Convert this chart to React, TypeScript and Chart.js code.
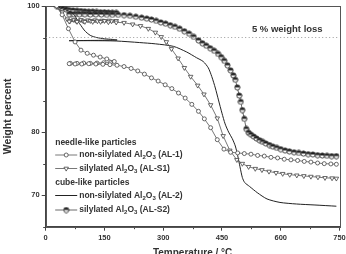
import { useEffect, useRef } from "react";
import { Chart, registerables } from "chart.js";

Chart.register(...registerables);

const FONT = '"Liberation Sans", Arial, Helvetica, sans-serif';
const INK = "#333";

// Thermogravimetric curves: [temperature °C, weight %]. Each run heats to ~180 °C,
// cools back to ~60 °C and is then heated again up to 750 °C.
const al1Curve: [number, number][] = [
  [28, 100], [42, 98.6], [58, 96.4], [75, 94.3], [90, 93.0], [106, 92.5], [122, 92.2], [139, 91.9], [156, 91.6], [175, 91.2],
  [165, 91.0], [148, 91.0], [131, 90.95], [114, 90.9], [97, 90.95], [80, 90.9], [63, 90.9],
  [60, 90.85], [75, 90.8], [92, 90.8], [110, 90.85], [128, 90.8], [146, 90.75], [164, 90.7], [182, 90.6],
  [200, 90.4], [218, 90.1], [235, 89.7], [252, 89.2], [270, 88.6], [287, 88.1], [305, 87.5], [322, 86.9], [339, 86.2],
  [356, 85.4], [373, 84.4], [390, 83.3], [405, 82.1], [421, 80.7], [438, 78.8], [455, 77.3], [472, 76.8], [490, 76.7],
  [507, 76.6], [524, 76.5], [541, 76.3], [558, 76.2], [575, 76.0], [592, 75.9], [609, 75.7], [626, 75.6], [643, 75.5],
  [660, 75.35], [677, 75.25], [694, 75.1], [711, 75.0], [728, 74.95], [742, 74.9],
];

const alS1Curve: [number, number][] = [
  [28, 100], [42, 99.0], [55, 97.9], [72, 97.8], [90, 97.8], [108, 97.75], [126, 97.75], [144, 97.7], [162, 97.7], [180, 97.65],
  [168, 97.6], [150, 97.65], [132, 97.6], [114, 97.65], [96, 97.6], [78, 97.6], [62, 97.6],
  [60, 97.55], [80, 97.5], [100, 97.5], [120, 97.5], [140, 97.5], [160, 97.45], [180, 97.4], [200, 97.35], [222, 97.1],
  [242, 96.85], [262, 96.4], [280, 95.8], [295, 95.1], [308, 94.3], [321, 93.2], [338, 91.7], [354, 90.2], [370, 88.8],
  [388, 87.4], [404, 86.0], [421, 84.3], [438, 82.2], [453, 79.4], [470, 77.1], [488, 75.6], [502, 75.0], [518, 74.5],
  [535, 74.2], [552, 74.0], [570, 73.75], [588, 73.55], [605, 73.4], [623, 73.25], [641, 73.15], [659, 73.05],
  [677, 72.95], [695, 72.85], [713, 72.75], [731, 72.7], [742, 72.65],
];

const al2Curve: [number, number][] = [
  [28, 100], [40, 99.6], [55, 99.3], [68, 98.9], [76, 98.3], [83, 97.5], [90, 96.9], [98, 96.2], [106, 95.7], [115, 95.3],
  [130, 95.0], [150, 94.8], [170, 94.7], [182, 94.6],
  [60, 94.5],
  [120, 94.5], [180, 94.45], [240, 94.2], [280, 94.0], [326, 93.6], [360, 92.7], [385, 91.8], [402, 91.2], [415, 90.2],
  [424, 88.8], [433, 87.0], [441, 85.1], [450, 83.0], [458, 81.3], [467, 80.0], [476, 79.0], [484, 77.8], [490, 76.3],
  [496, 74.5], [502, 72.8], [508, 72.0], [520, 71.4], [540, 70.4], [565, 69.4], [598, 68.85], [640, 68.6], [685, 68.45],
  [742, 68.25],
];

const alS2Curve: [number, number][] = [
  [28, 100], [36, 99.8], [44, 99.6], [52, 99.45], [60, 99.35], [70, 99.3], [80, 99.25], [90, 99.2], [100, 99.15],
  [110, 99.1], [120, 99.1], [130, 99.05], [140, 99.0], [150, 99.0], [160, 98.95], [170, 98.9], [180, 98.9],
  [170, 98.85], [155, 98.85], [140, 98.8], [125, 98.8], [110, 98.8], [95, 98.75], [80, 98.75], [65, 98.7],
  [60, 98.7], [72, 98.7], [86, 98.7], [100, 98.7], [114, 98.65], [128, 98.65], [142, 98.65], [156, 98.6], [170, 98.6],
  [185, 98.6], [200, 98.55], [215, 98.45], [230, 98.3], [245, 98.15], [258, 98.0], [270, 97.85], [282, 97.65],
  [294, 97.4], [306, 97.2], [318, 96.95], [330, 96.7], [342, 96.4], [354, 96.0], [366, 95.6], [378, 95.1], [390, 94.55],
  [400, 94.1], [410, 93.7], [420, 93.3], [430, 92.9], [440, 92.4], [448, 91.9], [456, 91.3], [464, 90.6], [472, 89.8],
  [479, 89.0], [484, 88.3], [489, 87.1], [494, 85.8], [498, 84.8], [502, 83.5], [507, 82.1], [512, 80.5], [518, 79.9],
  [524, 79.6], [531, 79.3], [538, 79.0], [546, 78.7], [554, 78.45], [562, 78.2], [571, 77.95], [580, 77.7], [590, 77.5],
  [600, 77.3], [611, 77.1], [622, 76.95], [634, 76.8], [646, 76.7], [658, 76.6], [670, 76.5], [682, 76.45], [694, 76.35],
  [706, 76.3], [718, 76.25], [730, 76.2], [742, 76.2],
];

const xTicks = [0, 150, 300, 450, 600, 750];
const xMinorTicks = [75, 225, 375, 525, 675];
const yTicks = [70, 80, 90, 100];
const yMinorTicks = [65, 75, 85, 95];

const lossLevel = 95;
const lossLabel = "5 % weight loss";
const lossLabelAt: [number, number] = [707, 96.35];

const groupTitles = ["needle-like particles", "cube-like particles"];
const legendPrefixes = ["non-silylated ", "silylated ", "non-silylated ", "silylated "];
const sampleCodes = ["AL-1", "AL-S1", "AL-2", "AL-S2"];

const toPoints = (curve: [number, number][]) => curve.map(([x, y]) => ({ x, y }));

function halfFilledMarker(): HTMLCanvasElement {
  const c = document.createElement("canvas");
  c.width = 7;
  c.height = 7;
  const g = c.getContext("2d")!;
  const r = 2.6;
  g.beginPath();
  g.arc(3.5, 3.5, r, 0, Math.PI * 2);
  g.fillStyle = "#fff";
  g.fill();
  g.beginPath();
  g.arc(3.5, 3.5, r, Math.PI, Math.PI * 2);
  g.closePath();
  g.fillStyle = "#1e1e1e";
  g.fill();
  g.beginPath();
  g.arc(3.5, 3.5, r, 0, Math.PI * 2);
  g.lineWidth = 0.9;
  g.strokeStyle = "#333";
  g.stroke();
  return c;
}

export default function App() {
  const canvasRef = useRef<HTMLCanvasElement | null>(null);

  useEffect(() => {
    if (!canvasRef.current) return;
    const s2Marker = halfFilledMarker();

    const styles = [
      { pointStyle: "circle" as any, pointRadius: 2, pointRotation: 0, pointBorderColor: "#444", pointBackgroundColor: "#fff", borderColor: "#555" },
      { pointStyle: "triangle" as any, pointRadius: 2.6, pointRotation: 180, pointBorderColor: "#444", pointBackgroundColor: "#fff", borderColor: "#555" },
      { pointStyle: false as any, pointRadius: 0, pointRotation: 0, pointBorderColor: "#222", pointBackgroundColor: "#222", borderColor: "#222" },
      { pointStyle: s2Marker as any, pointRadius: 2.6, pointRotation: 0, pointBorderColor: "#333", pointBackgroundColor: "#222", borderColor: "#444" },
    ];
    const curves = [al1Curve, alS1Curve, al2Curve, alS2Curve];

    const frame = {
      id: "frame",
      beforeDatasetsDraw(chart: any) {
        const { ctx, chartArea: a, scales } = chart;
        ctx.save();
        ctx.strokeStyle = "#444";
        ctx.lineWidth = 1;
        // minor ticks
        ctx.beginPath();
        xMinorTicks.forEach((v) => {
          const px = Math.round(scales.x.getPixelForValue(v)) + 0.5;
          ctx.moveTo(px, a.bottom);
          ctx.lineTo(px, a.bottom + 2.5);
        });
        yMinorTicks.forEach((v) => {
          const py = Math.round(scales.y.getPixelForValue(v)) + 0.5;
          ctx.moveTo(a.left, py);
          ctx.lineTo(a.left - 2.5, py);
        });
        ctx.stroke();
        // plot box
        ctx.strokeStyle = "#555";
        ctx.strokeRect(Math.round(a.left) + 0.5, Math.round(a.top) + 0.5, Math.round(a.right - a.left), Math.round(a.bottom - a.top));
        ctx.restore();
      },
      afterDraw(chart: any) {
        const { ctx, chartArea: a, scales } = chart;
        ctx.save();
        ctx.fillStyle = INK;
        ctx.textBaseline = "middle";
        ctx.font = `bold 9.5px ${FONT}`;
        ctx.textAlign = "right";
        ctx.fillText(lossLabel, scales.x.getPixelForValue(lossLabelAt[0]), scales.y.getPixelForValue(lossLabelAt[1]));

        // legend
        ctx.textAlign = "left";
        const x0 = a.left + 9.5;
        const lineEnd = x0 + 22;
        const textX = x0 + 24;
        const rows = [155, 168.5, 195.5, 210];
        const heads = [142.5, 183];
        ctx.font = `bold 8.5px ${FONT}`;
        ctx.fillText(groupTitles[0], x0, heads[0]);
        ctx.fillText(groupTitles[1], x0, heads[1]);
        rows.forEach((y, i) => {
          const st = styles[i];
          ctx.strokeStyle = st.borderColor;
          ctx.lineWidth = i === 2 ? 1 : 0.8;
          ctx.beginPath();
          ctx.moveTo(x0, y);
          ctx.lineTo(lineEnd, y);
          ctx.stroke();
          const mx = (x0 + lineEnd) / 2;
          if (i === 0) {
            ctx.beginPath();
            ctx.arc(mx, y, 2, 0, Math.PI * 2);
            ctx.fillStyle = "#fff";
            ctx.fill();
            ctx.strokeStyle = "#444";
            ctx.stroke();
          } else if (i === 1) {
            const r = 2.6;
            ctx.beginPath();
            ctx.moveTo(mx - r * 0.866, y - r * 0.5);
            ctx.lineTo(mx + r * 0.866, y - r * 0.5);
            ctx.lineTo(mx, y + r);
            ctx.closePath();
            ctx.fillStyle = "#fff";
            ctx.fill();
            ctx.strokeStyle = "#444";
            ctx.stroke();
          } else if (i === 3) {
            ctx.drawImage(s2Marker, mx - 3.5, y - 3.5);
          }
          // label with chemical subscripts
          ctx.fillStyle = INK;
          let x = textX;
          const big = `bold 8.5px ${FONT}`;
          const small = `bold 6px ${FONT}`;
          const parts: [string, boolean][] = [
            [legendPrefixes[i] + "Al", false], ["2", true], ["O", false], ["3", true], [` (${sampleCodes[i]})`, false],
          ];
          parts.forEach(([t, sub]) => {
            ctx.font = sub ? small : big;
            ctx.fillText(t, x, sub ? y + 2.4 : y);
            x += ctx.measureText(t).width;
          });
        });
        ctx.restore();
      },
    };

    const chart = new Chart(canvasRef.current, {
      type: "scatter",
      data: {
        datasets: [
          {
            label: "loss",
            data: [{ x: 0, y: lossLevel }, { x: 750, y: lossLevel }],
            showLine: true,
            borderColor: "#999",
            borderWidth: 1,
            borderDash: [1, 2.5],
            pointRadius: 0,
          },
          ...curves.map((c, i) => ({
            label: sampleCodes[i],
            data: toPoints(c),
            showLine: true,
            borderColor: styles[i].borderColor,
            borderWidth: i === 2 ? 1 : 0.8,
            pointStyle: styles[i].pointStyle,
            pointRadius: styles[i].pointRadius,
            pointRotation: styles[i].pointRotation,
            pointBorderColor: styles[i].pointBorderColor,
            pointBackgroundColor: styles[i].pointBackgroundColor,
            pointBorderWidth: 0.8,
            tension: i === 2 ? 0.25 : 0,
          })),
        ],
      },
      options: {
        animation: false,
        responsive: false,
        layout: { padding: { top: 6, right: 6.5, bottom: 0, left: 0 } },
        plugins: { legend: { display: false }, tooltip: { enabled: false } },
        scales: {
          x: {
            type: "linear",
            min: 0,
            max: 750,
            afterBuildTicks: (s: any) => {
              s.ticks = xTicks.map((value) => ({ value }));
            },
            afterFit: (s: any) => {
              s.height = 27.3;
              s.paddingLeft = 0;
              s.paddingRight = 0;
            },
            grid: { drawOnChartArea: false, drawTicks: true, tickLength: 4, color: "#444" },
            border: { display: true, color: "#444", width: 1 },
            ticks: { color: INK, font: { family: FONT, size: 7.5, weight: "bold" }, padding: 3, maxRotation: 0, autoSkip: false },
            title: {
              display: true,
              text: "Temperature / °C",
              color: INK,
              font: { family: FONT, size: 10, weight: "bold" },
              padding: { top: 0, bottom: -5.5 },
            },
          },
          y: {
            type: "linear",
            min: 65,
            max: 100,
            afterBuildTicks: (s: any) => {
              s.ticks = yTicks.map((value) => ({ value }));
            },
            afterFit: (s: any) => {
              s.width = 45.7;
              s.paddingTop = 0;
              s.paddingBottom = 0;
            },
            grid: { drawOnChartArea: false, drawTicks: true, tickLength: 4, color: "#444" },
            border: { display: true, color: "#444", width: 1 },
            ticks: { color: INK, font: { family: FONT, size: 7.5, weight: "bold" }, padding: 2 },
            title: {
              display: true,
              text: "Weight percent",
              color: INK,
              font: { family: FONT, size: 10.5, weight: "bold" },
              padding: { top: 2, bottom: 0 },
            },
          },
        },
      } as any,
      plugins: [frame],
    });

    return () => chart.destroy();
  }, []);

  return (
    <div style={{ position: "fixed", left: 0, top: 0, width: 346, height: 254, background: "#fff" }}>
      <canvas ref={canvasRef} width={346} height={254} />
    </div>
  );
}
